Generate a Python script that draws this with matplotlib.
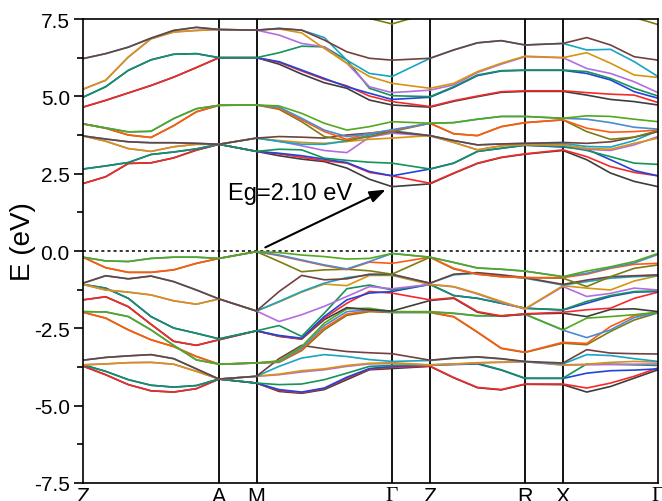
import numpy as np
import matplotlib
matplotlib.use("Agg")
import matplotlib.pyplot as plt
from matplotlib.ticker import MultipleLocator

plt.rcParams["font.family"] = ["Liberation Sans", "DejaVu Sans"]
plt.rcParams["axes.unicode_minus"] = False

# high-symmetry points along the k-path (path length units)
kpath_labels = ["Z", "A", "M", "\u0393", "Z", "R", "X", "\u0393"]
kpath_pos = [0, 136, 173.5, 309, 347, 442, 480, 575]
seg_steps = [6, 1, 6, 1, 4, 1, 4]  # sample intervals per segment

# band n is drawn with band_colors[n % 12]
band_colors = [
    "#3d3d3d", "#f42a2a", "#2243dc", "#14935a", "#b46de0", "#d8930f",
    "#17a4c6", "#70413f", "#7d7c12", "#ff5a14", "#4a8bd2", "#52a91c",
]

vbm = -0.02  # top of valence band (M)
cbm = 2.08   # bottom of conduction band (Gamma)
gap = 2.10

# valence bands, lowest first
vb00 = [-3.72, -4.00, -4.32, -4.52, -4.56, -4.45, -4.14, -4.27, -4.54, -4.60, -4.48, -4.16, -3.84, -3.80, -3.73, -4.10, -4.42, -4.49, -4.31, -4.32, -4.56, -4.38, -4.11, -3.84]
vb01 = [-3.72, -4.00, -4.32, -4.52, -4.56, -4.45, -4.14, -4.27, -4.51, -4.58, -4.45, -4.11, -3.82, -3.76, -3.72, -4.09, -4.41, -4.48, -4.30, -4.30, -4.43, -4.27, -4.05, -3.78]
vb02 = [-3.68, -3.89, -4.16, -4.34, -4.40, -4.35, -4.14, -4.27, -4.48, -4.56, -4.43, -4.08, -3.80, -3.73, -3.69, -3.67, -3.65, -3.85, -4.12, -4.12, -3.95, -3.87, -3.85, -3.81]
vb03 = [-3.68, -3.89, -4.16, -4.34, -4.40, -4.35, -4.14, -4.27, -4.32, -4.30, -4.16, -3.95, -3.73, -3.70, -3.68, -3.66, -3.63, -3.84, -4.11, -4.11, -3.65, -3.66, -3.68, -3.70]
vb04 = [-3.68, -3.65, -3.61, -3.60, -3.66, -3.89, -4.14, -4.05, -4.00, -3.91, -3.84, -3.73, -3.65, -3.64, -3.69, -3.66, -3.62, -3.60, -3.58, -3.69, -3.68, -3.67, -3.66, -3.65]
vb05 = [-3.68, -3.65, -3.61, -3.60, -3.66, -3.89, -4.14, -4.05, -3.98, -3.87, -3.81, -3.70, -3.63, -3.61, -3.68, -3.65, -3.61, -3.59, -3.57, -3.68, -3.66, -3.60, -3.57, -3.59]
vb06 = [-3.53, -3.44, -3.39, -3.35, -3.48, -3.81, -4.14, -4.05, -3.73, -3.46, -3.35, -3.41, -3.51, -3.57, -3.54, -3.47, -3.43, -3.49, -3.58, -3.65, -3.35, -3.38, -3.48, -3.57]
vb07 = [-3.53, -3.44, -3.39, -3.35, -3.48, -3.81, -4.14, -4.05, -3.48, -3.05, -3.16, -3.25, -3.29, -3.32, -3.53, -3.46, -3.42, -3.48, -3.57, -3.62, -3.19, -3.30, -3.32, -3.33]
vb08 = [-1.98, -2.17, -2.55, -2.87, -3.09, -3.41, -3.66, -3.62, -3.60, -3.22, -2.55, -2.08, -1.96, -1.99, -1.99, -2.13, -2.63, -3.15, -3.28, -2.98, -3.03, -2.60, -2.23, -2.00]
vb09 = [-1.98, -2.17, -2.55, -2.87, -3.09, -3.41, -3.66, -3.62, -3.59, -3.19, -2.49, -2.04, -1.93, -1.98, -1.98, -2.12, -2.62, -3.14, -3.27, -2.95, -2.99, -2.44, -2.09, -1.98]
vb10 = [-1.96, -1.97, -2.12, -2.55, -3.05, -3.52, -3.66, -3.62, -3.57, -3.14, -2.41, -1.96, -1.90, -1.98, -1.97, -2.02, -2.10, -2.10, -2.05, -2.56, -2.80, -2.55, -2.15, -1.99]
vb11 = [-1.96, -1.97, -2.12, -2.55, -3.05, -3.52, -3.66, -3.62, -3.55, -3.09, -2.33, -1.87, -1.85, -1.96, -1.96, -2.01, -2.09, -2.09, -2.04, -2.55, -2.17, -2.12, -2.06, -1.98]
vb12 = [-1.58, -1.48, -1.80, -2.37, -2.92, -3.05, -2.87, -2.58, -2.76, -2.85, -2.22, -1.83, -1.90, -1.94, -1.60, -1.53, -1.98, -2.11, -2.04, -2.01, -2.12, -1.89, -1.87, -1.96]
vb13 = [-1.58, -1.48, -1.80, -2.37, -2.92, -3.05, -2.87, -2.58, -2.75, -2.84, -2.17, -1.69, -1.31, -1.36, -1.58, -1.51, -1.96, -2.10, -2.03, -1.98, -1.90, -1.85, -1.53, -1.33]
vb14 = [-1.08, -1.20, -1.53, -2.12, -2.49, -2.66, -2.84, -2.58, -2.73, -2.82, -2.12, -1.58, -1.36, -1.31, -1.08, -1.44, -1.53, -1.69, -1.85, -1.91, -1.69, -1.47, -1.33, -1.31]
vb15 = [-1.08, -1.20, -1.53, -2.12, -2.49, -2.66, -2.84, -2.58, -2.41, -2.76, -2.01, -1.22, -1.10, -1.26, -1.08, -1.44, -1.53, -1.69, -1.85, -1.90, -1.63, -1.44, -1.31, -1.29]
vb16 = [-1.08, -1.26, -1.33, -1.42, -1.61, -1.72, -1.55, -1.94, -2.28, -2.06, -1.79, -1.47, -1.15, -1.22, -1.08, -1.16, -1.39, -1.66, -1.88, -1.15, -1.47, -1.37, -1.20, -1.26]
vb17 = [-1.08, -1.26, -1.33, -1.42, -1.61, -1.72, -1.55, -1.94, -1.65, -1.33, -1.07, -1.12, -0.79, -0.79, -1.08, -1.15, -1.37, -1.63, -1.87, -1.12, -1.20, -1.26, -0.97, -0.80]
vb18 = [-1.04, -0.80, -0.90, -0.81, -0.99, -1.26, -1.55, -1.94, -1.63, -1.31, -1.04, -0.86, -0.77, -0.77, -1.04, -0.77, -0.72, -0.80, -0.88, -1.10, -0.99, -0.88, -0.83, -0.80]
vb19 = [-1.04, -0.80, -0.90, -0.81, -0.99, -1.26, -1.55, -1.94, -1.31, -0.79, -0.93, -0.90, -0.75, -0.75, -1.04, -0.75, -0.70, -0.77, -0.86, -1.08, -0.94, -0.83, -0.80, -0.77]
vb20 = [-0.20, -0.54, -0.69, -0.69, -0.61, -0.40, -0.24, -0.02, -0.34, -0.67, -0.61, -0.59, -0.64, -0.75, -0.20, -0.58, -0.75, -0.83, -0.86, -0.88, -1.15, -0.83, -0.56, -0.45]
vb21 = [-0.20, -0.54, -0.69, -0.69, -0.61, -0.40, -0.24, -0.02, -0.15, -0.31, -0.47, -0.60, -0.36, -0.40, -0.20, -0.56, -0.75, -0.83, -0.86, -0.86, -0.75, -0.56, -0.43, -0.40]
vb22 = [-0.20, -0.32, -0.34, -0.24, -0.20, -0.20, -0.24, -0.02, -0.13, -0.29, -0.45, -0.58, -0.34, -0.08, -0.20, -0.37, -0.55, -0.59, -0.65, -0.83, -0.72, -0.54, -0.39, -0.11]
vb23 = [-0.20, -0.32, -0.34, -0.24, -0.20, -0.20, -0.24, -0.02, -0.05, -0.13, -0.18, -0.26, -0.24, -0.08, -0.20, -0.37, -0.55, -0.59, -0.65, -0.83, -0.65, -0.51, -0.34, -0.08]

# conduction bands, lowest first
cb00 = [2.18, 2.40, 2.83, 2.85, 3.01, 3.26, 3.45, 3.22, 3.08, 2.97, 2.89, 2.68, 2.32, 2.08, 2.17, 2.51, 2.83, 3.02, 3.13, 3.25, 2.95, 2.52, 2.25, 2.08]
cb01 = [2.18, 2.40, 2.83, 2.85, 3.01, 3.26, 3.45, 3.22, 3.14, 3.03, 2.92, 2.84, 2.54, 2.43, 2.19, 2.52, 2.84, 3.03, 3.14, 3.27, 3.05, 2.73, 2.54, 2.43]
cb02 = [2.65, 2.75, 2.86, 3.12, 3.20, 3.30, 3.45, 3.22, 3.16, 3.08, 2.97, 2.86, 2.57, 2.43, 2.65, 2.84, 3.22, 3.32, 3.42, 3.36, 3.29, 2.95, 2.60, 2.43]
cb03 = [2.65, 2.75, 2.86, 3.12, 3.20, 3.30, 3.45, 3.22, 3.29, 3.27, 3.00, 2.93, 2.87, 2.84, 2.65, 2.84, 3.22, 3.32, 3.42, 3.38, 3.25, 3.05, 2.84, 2.80]
cb04 = [3.72, 3.55, 3.31, 3.22, 3.37, 3.45, 3.45, 3.65, 3.55, 3.40, 3.25, 3.18, 3.68, 3.81, 3.72, 3.51, 3.27, 3.40, 3.44, 3.43, 3.29, 3.25, 3.43, 3.70]
cb05 = [3.72, 3.55, 3.31, 3.22, 3.37, 3.45, 3.45, 3.65, 3.57, 3.51, 3.48, 3.54, 3.61, 3.65, 3.73, 3.51, 3.27, 3.40, 3.44, 3.43, 3.32, 3.29, 3.48, 3.65]
cb06 = [3.72, 3.62, 3.53, 3.50, 3.50, 3.48, 3.45, 3.65, 3.54, 3.45, 3.45, 3.56, 3.75, 3.89, 3.73, 3.57, 3.43, 3.46, 3.48, 3.48, 3.38, 3.36, 3.57, 3.89]
cb07 = [3.72, 3.62, 3.53, 3.50, 3.50, 3.48, 3.45, 3.65, 3.70, 3.68, 3.65, 3.75, 3.81, 3.86, 3.73, 3.57, 3.43, 3.46, 3.48, 3.51, 3.48, 3.53, 3.68, 3.86]
cb08 = [4.11, 3.97, 3.75, 3.67, 4.05, 4.50, 4.71, 4.72, 4.58, 4.18, 3.70, 3.57, 3.70, 3.86, 4.13, 3.79, 3.73, 4.02, 4.15, 4.24, 3.86, 3.61, 3.68, 3.89]
cb09 = [4.11, 3.97, 3.75, 3.67, 4.05, 4.50, 4.71, 4.72, 4.61, 4.24, 3.86, 3.61, 3.81, 3.90, 4.13, 3.79, 3.73, 4.02, 4.15, 4.24, 3.97, 3.84, 3.86, 3.91]
cb10 = [4.11, 3.98, 3.85, 3.87, 4.28, 4.60, 4.71, 4.72, 4.65, 4.29, 3.91, 3.70, 3.79, 3.92, 4.13, 4.15, 4.26, 4.35, 4.35, 4.29, 4.26, 4.15, 4.00, 3.94]
cb11 = [4.11, 3.98, 3.85, 3.87, 4.28, 4.60, 4.71, 4.72, 4.69, 4.45, 4.13, 3.91, 4.02, 4.18, 4.13, 4.15, 4.26, 4.35, 4.35, 4.29, 4.37, 4.35, 4.26, 4.18]
cb12 = [4.65, 4.87, 5.11, 5.35, 5.62, 5.93, 6.25, 6.25, 6.04, 5.72, 5.44, 5.26, 4.88, 4.72, 4.65, 4.84, 4.99, 5.13, 5.16, 5.16, 5.04, 4.90, 4.83, 4.72]
cb13 = [4.65, 4.87, 5.11, 5.35, 5.62, 5.93, 6.25, 6.25, 6.10, 5.82, 5.55, 5.34, 5.01, 4.83, 4.67, 4.86, 5.01, 5.15, 5.18, 5.18, 5.12, 5.07, 5.04, 4.80]
cb14 = [4.97, 5.31, 5.84, 6.18, 6.36, 6.38, 6.25, 6.25, 6.12, 5.85, 5.58, 5.31, 5.10, 4.90, 4.97, 5.29, 5.67, 5.82, 5.84, 5.84, 5.74, 5.53, 5.15, 4.94]
cb15 = [4.97, 5.31, 5.84, 6.18, 6.36, 6.38, 6.25, 6.25, 6.41, 6.62, 6.60, 6.17, 5.26, 5.02, 4.99, 5.31, 5.69, 5.83, 5.85, 5.85, 5.80, 5.58, 5.26, 5.01]
cb16 = [5.23, 5.52, 6.27, 6.86, 7.08, 7.13, 7.16, 7.14, 6.98, 6.71, 6.60, 6.07, 5.31, 5.12, 5.20, 5.37, 5.77, 6.04, 6.28, 6.25, 5.90, 5.74, 5.47, 5.12]
cb17 = [5.23, 5.52, 6.27, 6.86, 7.08, 7.13, 7.16, 7.14, 7.18, 7.05, 6.55, 6.07, 5.64, 5.42, 5.26, 5.42, 5.80, 6.07, 6.30, 6.25, 6.41, 6.07, 5.69, 5.61]
cb18 = [6.22, 6.38, 6.59, 6.88, 7.13, 7.23, 7.16, 7.14, 7.20, 7.14, 6.90, 6.17, 5.74, 5.64, 6.23, 6.50, 6.73, 6.80, 6.66, 6.71, 6.50, 6.52, 6.12, 5.64]
cb19 = [6.22, 6.38, 6.59, 6.88, 7.13, 7.23, 7.16, 7.14, 7.19, 7.14, 6.82, 6.44, 6.23, 6.17, 6.23, 6.50, 6.73, 6.80, 6.66, 6.71, 6.90, 6.66, 6.28, 6.17]
cb20 = [8.60, 8.60, 8.60, 8.60, 8.60, 8.60, 8.50, 8.40, 8.30, 8.20, 8.00, 7.80, 7.52, 7.34, 7.70, 8.00, 8.20, 8.30, 8.30, 8.30, 8.20, 8.00, 7.55, 7.32]

bands = [vb00, vb01, vb02, vb03, vb04, vb05, vb06, vb07, vb08, vb09, vb10, vb11,
         vb12, vb13, vb14, vb15, vb16, vb17, vb18, vb19, vb20, vb21, vb22, vb23,
         cb00, cb01, cb02, cb03, cb04, cb05, cb06, cb07, cb08, cb09, cb10, cb11,
         cb12, cb13, cb14, cb15, cb16, cb17, cb18, cb19, cb20]

# k coordinate of every sample along the path
k = [kpath_pos[0]]
for a, b, n in zip(kpath_pos[:-1], kpath_pos[1:], seg_steps):
    k.extend(np.linspace(a, b, n + 1)[1:])
k = np.array(k)

fig = plt.figure(figsize=(6.62, 5.02), dpi=100)
ax = fig.add_axes([83 / 662, 18 / 502, 575 / 662, 464 / 502])

for n, e in enumerate(bands):
    ax.plot(k, e, color=band_colors[n % 12], lw=1.2, solid_joinstyle="round")

for p in kpath_pos[1:-1]:
    ax.axvline(p, color="k", lw=1.3, zorder=1)
ax.axhline(0, color="k", lw=1.1, ls=(0, (2, 2)), zorder=1)

ax.set_xlim(kpath_pos[0], kpath_pos[-1])
ax.set_ylim(-7.5, 7.5)

ax.set_yticks(np.arange(-7.5, 7.6, 2.5))
ax.set_yticklabels(["{:.1f}".format(v) for v in np.arange(-7.5, 7.6, 2.5)])
ax.yaxis.set_minor_locator(MultipleLocator(1.25))
ax.tick_params(axis="y", which="major", direction="out", length=6.5, width=1.2,
               labelsize=15, pad=3)
ax.tick_params(axis="y", which="minor", direction="out", length=4, width=1.2)

ax.set_xticks(kpath_pos)
ax.set_xticklabels(kpath_labels)
ax.tick_params(axis="x", length=0, pad=2, labelsize=15.5)
for lab in ax.get_xticklabels():
    if lab.get_text() == "\u0393":
        lab.set_family("Liberation Serif")

for s in ax.spines.values():
    s.set_linewidth(1.2)

# band gap arrow from VBM (M) to CBM (Gamma)
ax.annotate("", xy=(kpath_pos[3], cbm), xytext=(kpath_pos[2], vbm),
            arrowprops=dict(arrowstyle="-|>,head_length=0.6,head_width=0.22",
                            mutation_scale=16, color="k", lw=1.5,
                            shrinkA=7, shrinkB=5))
ax.text(145, 1.67, "Eg={:.2f} eV".format(gap), fontsize=17, ha="left",
        va="baseline")

fig.text(22.5 / 662, 1 - 241.5 / 502, "E (eV)", rotation=90, ha="center",
         va="center", fontsize=20)

fig.savefig("out.png", dpi=100)
